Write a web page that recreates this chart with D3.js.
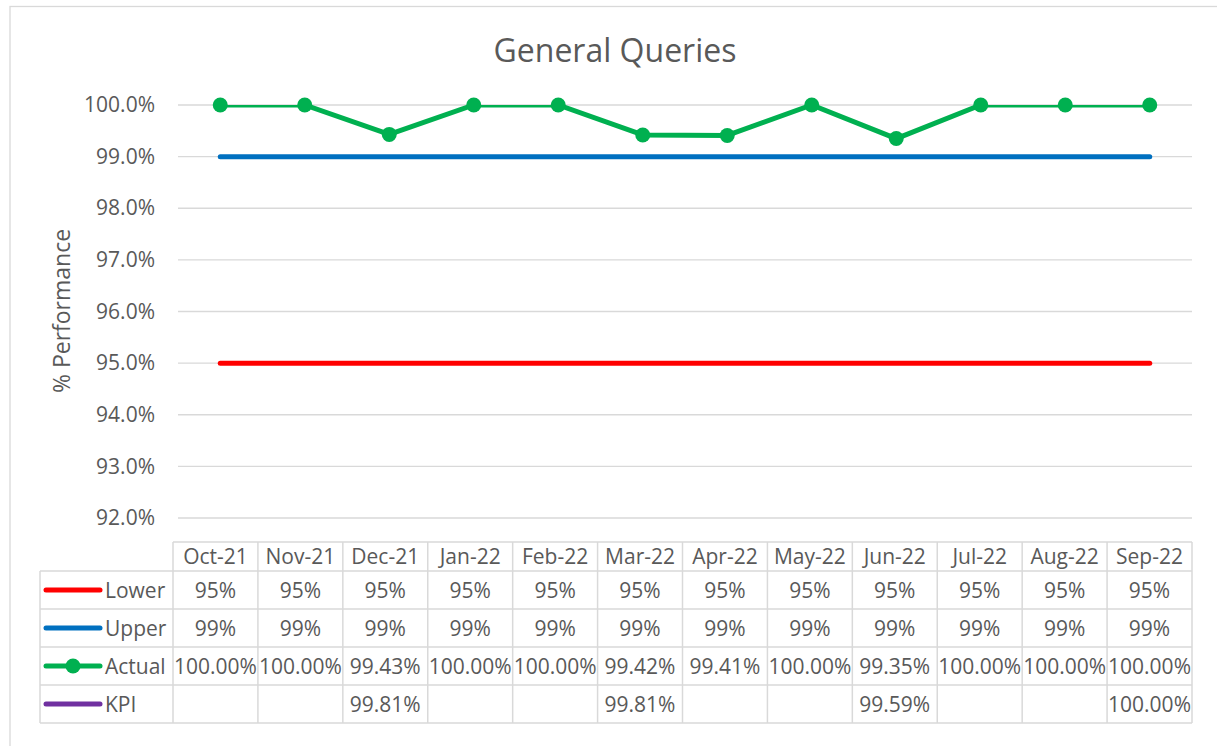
<!DOCTYPE html>
<html>
<head>
<meta charset="utf-8">
<script src="https://cdn.jsdelivr.net/npm/d3@7"></script>
<style>
  html, body { margin: 0; padding: 0; background: #fff; }
  svg { display: block; }
  text { font-family: "Open Sans", "Liberation Sans", sans-serif; fill: #595959; }
</style>
</head>
<body>
<svg id="chart" width="1217" height="746"></svg>
<script>
// ---- Data ----
const months = ["Oct-21","Nov-21","Dec-21","Jan-22","Feb-22","Mar-22","Apr-22","May-22","Jun-22","Jul-22","Aug-22","Sep-22"];
const lower  = [0.95,0.95,0.95,0.95,0.95,0.95,0.95,0.95,0.95,0.95,0.95,0.95];
const upper  = [0.99,0.99,0.99,0.99,0.99,0.99,0.99,0.99,0.99,0.99,0.99,0.99];
const actual = [1.0,1.0,0.9943,1.0,1.0,0.9942,0.9941,1.0,0.9935,1.0,1.0,1.0];
const kpi    = [null,null,0.9981,null,null,0.9981,null,null,0.9959,null,null,1.0];
const yTicks = [0.92,0.93,0.94,0.95,0.96,0.97,0.98,0.99,1.0];
const title = "General Queries";
const yTitle = "% Performance";

const series = [
  {name: "Lower",  values: lower,  color: "#FF0000", fmt: d3.format(".0%"), marker: false},
  {name: "Upper",  values: upper,  color: "#0070C0", fmt: d3.format(".0%"), marker: false},
  {name: "Actual", values: actual, color: "#00B050", fmt: d3.format(".2%"), marker: true},
  {name: "KPI",    values: kpi,    color: "#7030A0", fmt: d3.format(".2%"), marker: false}
];

// ---- Layout ----
const svg = d3.select("#chart");
const plot = {left: 178, right: 1192, top: 105, bottom: 518};
const grid = "#d9d9d9";

// outer chart border
svg.append("rect").attr("x", 10).attr("y", 6.5).attr("width", 1230).attr("height", 760)
  .attr("fill", "none").attr("stroke", grid).attr("stroke-width", 1.3);

// title
svg.append("text").attr("x", 615).attr("y", 62).attr("text-anchor", "middle")
  .style("font-size", "32px").text(title);

const x = d3.scalePoint().domain(months).range([plot.left, plot.right]).padding(0.5);
const y = d3.scaleLinear().domain([0.92, 1.0]).range([plot.bottom, plot.top]);

// gridlines
svg.append("g").selectAll("line").data(yTicks).join("line")
  .attr("x1", plot.left).attr("x2", plot.right)
  .attr("y1", d => y(d)).attr("y2", d => y(d))
  .attr("stroke", grid).attr("stroke-width", 1.3);

// y axis labels
const yAxis = d3.axisLeft(y).tickValues(yTicks).tickFormat(d3.format(".1%")).tickSize(0).tickPadding(0);
const gy = svg.append("g").attr("transform", `translate(155,0)`).call(yAxis);
gy.select(".domain").remove();
gy.selectAll("text").style("font-size", "21px").attr("fill", "#595959")
  .style("font-family", "'Open Sans', 'Liberation Sans', sans-serif");

// y title
svg.append("text").attr("transform", "translate(70,311) rotate(-90)")
  .attr("text-anchor", "middle").style("font-size", "23px").text(yTitle);

// clip
svg.append("defs").append("clipPath").attr("id", "plotclip")
  .append("rect").attr("x", plot.left).attr("y", plot.top)
  .attr("width", plot.right - plot.left).attr("height", plot.bottom - plot.top);

const line = d3.line()
  .defined(d => d.v !== null)
  .x(d => x(d.m)).y(d => y(d.v));

const lines = svg.append("g").attr("clip-path", "url(#plotclip)");
series.forEach(s => {
  const pts = months.map((m, i) => ({m, v: s.values[i]}));
  lines.append("path").datum(pts).attr("d", line)
    .attr("fill", "none").attr("stroke", s.color).attr("stroke-width", 5)
    .attr("stroke-linecap", s.name === "KPI" ? "butt" : "round")
    .attr("stroke-linejoin", "round");
});
// markers (not clipped)
series.filter(s => s.marker).forEach(s => {
  svg.append("g").selectAll("circle").data(months.map((m, i) => ({m, v: s.values[i]})).filter(d => d.v !== null))
    .join("circle").attr("cx", d => x(d.m)).attr("cy", d => y(d.v)).attr("r", 7.5)
    .attr("fill", s.color);
});

// ---- Data table ----
const tbl = {left: 40, colStart: 173, right: 1192, headTop: 542, headBottom: 571, rowH: 38};
const cx = d3.scaleBand().domain(months).range([tbl.colStart, tbl.right]);
const rowTop = i => tbl.headBottom + i * tbl.rowH;
const tg = svg.append("g");
const tableBottom = rowTop(series.length);

// header texts
tg.selectAll("text.hdr").data(months).join("text").attr("class", "hdr")
  .attr("x", d => cx(d) + cx.bandwidth() / 2).attr("y", (tbl.headTop + tbl.headBottom) / 2)
  .attr("dy", "0.36em").attr("text-anchor", "middle").style("font-size", "21px").text(d => d);

// values
series.forEach((s, r) => {
  const cy = rowTop(r) + tbl.rowH / 2;
  tg.append("g").selectAll("text").data(months.map((m, i) => ({m, v: s.values[i]})).filter(d => d.v !== null))
    .join("text").attr("x", d => cx(d.m) + cx.bandwidth() / 2).attr("y", cy)
    .attr("dy", "0.36em").attr("text-anchor", "middle").style("font-size", "21px")
    .text(d => s.fmt(d.v));
  // legend key
  tg.append("line").attr("x1", 46).attr("x2", 100).attr("y1", cy).attr("y2", cy)
    .attr("stroke", s.color).attr("stroke-width", 5).attr("stroke-linecap", "round");
  if (s.marker) tg.append("circle").attr("cx", 73).attr("cy", cy).attr("r", 7.5).attr("fill", s.color);
  tg.append("text").attr("x", 105).attr("y", cy).attr("dy", "0.36em").style("font-size", "21px").text(s.name);
});

// table grid lines
const bs = {stroke: grid, "stroke-width": 1.5};
const hl = (x1, x2, yy) => tg.append("line").attr("x1", x1).attr("x2", x2).attr("y1", yy).attr("y2", yy).attr("stroke", bs.stroke).attr("stroke-width", bs["stroke-width"]);
const vl = (xx, y1, y2) => tg.append("line").attr("x1", xx).attr("x2", xx).attr("y1", y1).attr("y2", y2).attr("stroke", bs.stroke).attr("stroke-width", bs["stroke-width"]);
hl(tbl.colStart, tbl.right, tbl.headTop);
for (let r = 0; r <= series.length; r++) hl(tbl.left, tbl.right, rowTop(r));
vl(tbl.left, tbl.headBottom, tableBottom);
months.forEach(m => vl(cx(m), tbl.headTop, tableBottom));
vl(tbl.right, tbl.headTop, tableBottom);
</script>
</body>
</html>
